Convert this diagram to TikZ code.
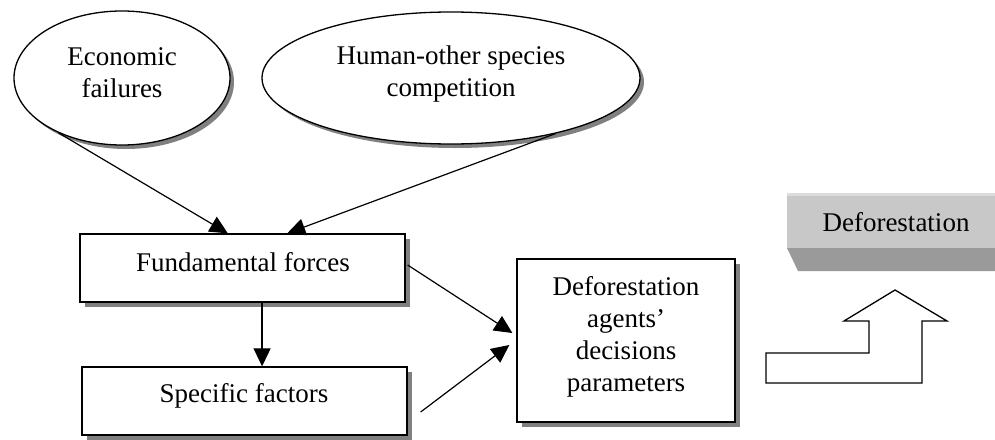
\documentclass[tikz,border=0pt]{standalone}
\usepackage{fontspec}
\setmainfont{Liberation Serif}
\usetikzlibrary{shapes.geometric,shadows,arrows.meta,calc}
\definecolor{shadowgray}{HTML}{808080}
\definecolor{facegray}{HTML}{C8C8C8}
\definecolor{edgegray}{HTML}{DCDCDC}
\definecolor{bevelgray}{HTML}{9A9A9A}
\begin{document}
\begin{tikzpicture}[x=1pt,y=-1pt,
  every node/.style={font=\fontsize{27}{32}\selectfont},
  ell/.style={ellipse, draw, line width=1.3pt, fill=white, inner sep=0pt,
    drop shadow={shadow xshift=4pt,shadow yshift=-4pt,fill=shadowgray,opacity=1}},
  boxn/.style={rectangle, draw, line width=1.3pt, fill=white, inner sep=0pt,
    drop shadow={shadow xshift=5pt,shadow yshift=-5pt,fill=shadowgray,opacity=1}},
  txt/.style={align=center, inner sep=0pt, anchor=base},
  arr/.style={line width=1.2pt, -{Triangle[length=18pt,width=17pt]}},
]
\useasboundingbox (0,0) rectangle (995,439);
% ellipses
\node[ell, minimum width=216pt, minimum height=134pt] (e1) at (122,78) {};
\node[ell, minimum width=378pt, minimum height=132pt] (e2) at (451,78) {};
\node[txt] (t1) at (122,97) {Economic\\failures};
\node[txt] (t2) at (451,96) {Human-other species\\competition};
% boxes
\node[boxn, minimum width=325pt, minimum height=68pt] (ff) at (242.5,268) {};
\node[boxn, minimum width=325pt, minimum height=68pt] (sf) at (244.5,401) {};
\node[boxn, minimum width=218pt, minimum height=163pt] (ag) at (626,340.5) {};
\node[txt] (t3) at (243,271) {Fundamental forces};
\node[txt] (t4) at (244,402) {Specific factors};
\node[txt] (t5) at (626,391) {Deforestation\\agents’\\decisions\\parameters};
% bevelled result box
\fill[facegray] (787,193) rectangle (995,248);
\fill[edgegray] (787,193) rectangle (995,195.5);
\fill[bevelgray] (787,248) -- (995,248) -- (995,271) -- (798,271) -- cycle;
\node[txt] (t6) at (896,231) {Deforestation};
% step arrow
\draw[line width=1.3pt, line join=miter] (895,290) -- (947,321) -- (922,321) -- (922,383)
  -- (766,383) -- (766,353) -- (869,353) -- (869,321) -- (844,321) -- cycle;
% connectors
\draw[arr] (e1.221) -- ($(ff.north west)!0.455!(ff.north east)$);
\draw[arr] (e2.-28) -- ($(ff.north west)!0.637!(ff.north east)$);
\draw[arr] ($(ff.south west)!0.56!(ff.south east)$) coordinate (fs) -- (fs |- sf.north);
\draw[arr] ($(ff.east)+(2,-3)$) -- ($(ag.west)+(-4,-7.5)$);
\draw[arr] ($(sf.east)+(13,11)$) -- ($(ag.west)+(-7,4.5)$);
\end{tikzpicture}
\end{document}
